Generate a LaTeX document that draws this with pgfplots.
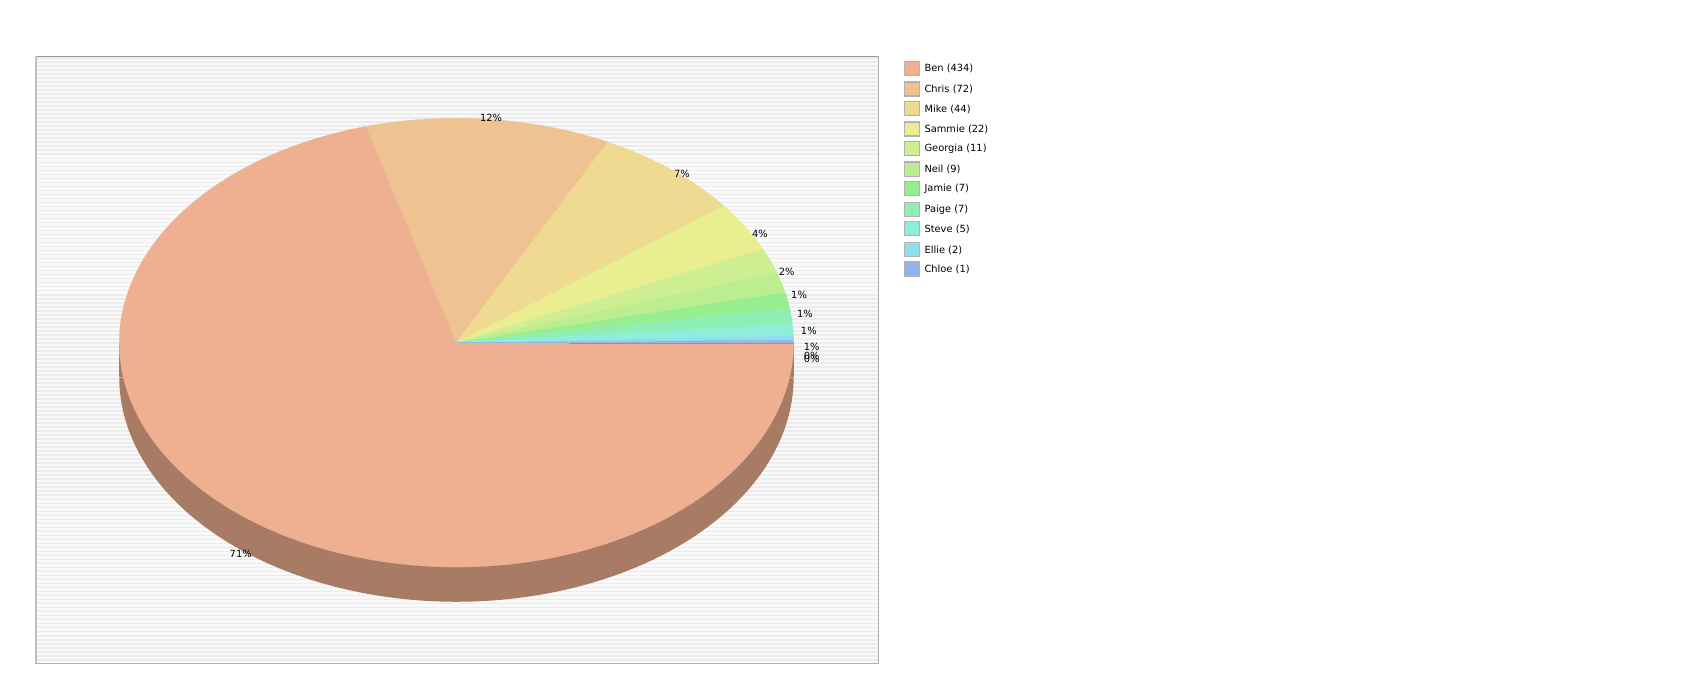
\documentclass[border=0pt]{standalone}
\usepackage{pgfplots}
\usepackage{pgfplotstable}
\pgfplotsset{compat=1.18}
\usepackage{fontspec}
\setmainfont{DejaVu Sans}

\definecolor{cBen}{HTML}{EEB091}
\definecolor{cChris}{HTML}{EEC291}
\definecolor{cMike}{HTML}{EEDA91}
\definecolor{cSammie}{HTML}{E9EE91}
\definecolor{cGeorgia}{HTML}{CDEE91}
\definecolor{cNeil}{HTML}{BCEE91}
\definecolor{cJamie}{HTML}{97EE8F}
\definecolor{cPaige}{HTML}{8FEEB5}
\definecolor{cSteve}{HTML}{8FEEDA}
\definecolor{cEllie}{HTML}{8FDFEE}
\definecolor{cChloe}{HTML}{8FB3EE}
\definecolor{cSide}{HTML}{A87C64}
\definecolor{stripe}{HTML}{ECECEC}
\definecolor{bgfill}{HTML}{FAFAFA}

% name value colour legend-y
\pgfplotstableread{
name value col ly
Ben 434 cBen 63
Chris 72 cChris 82
Mike 44 cMike 100
Sammie 22 cSammie 119
Georgia 11 cGeorgia 137
Neil 9 cNeil 156
Jamie 7 cJamie 174
Paige 7 cPaige 193
Steve 5 cSteve 211
Ellie 2 cEllie 230
Chloe 1 cChloe 248
}\piedata

% percentage labels (x, y, text)
\pgfplotstableread{
x y lab
222 511 71
453 109 12
629 160 7
701 216 4
725.6 250.5 2
737 272 1
742.5 289.5 1
746 305.5 1
748.6 320 1
748.6 328 0
748.6 331 0
}\labdata

\begin{document}
\begin{tikzpicture}
\pgfmathsetmacro\total{0}
\foreach \i in {0,...,10}{%
  \pgfplotstablegetelem{\i}{value}\of\piedata
  \pgfmathsetmacro\t{\total+\pgfplotsretval}%
  \xdef\total{\t}%
}
\begin{axis}[width=1275pt, height=525pt, scale only axis,
  at={(0,0)}, anchor=south west,
  xmin=0, xmax=1568, ymin=0, ymax=645.6, y dir=reverse,
  hide axis, clip=false]
% plot background
\addplot[fill=bgfill, draw=none] coordinates {(33,52) (810,52) (810,612) (33,612)} -- cycle;
\pgfplotsinvokeforeach{0,...,150}{
  \draw[stripe, line width=1.2pt] (axis cs:33,{53.5+3.7*#1}) -- (axis cs:810,{53.5+3.7*#1});
}
\draw[color=black!40, line width=0.8pt] (axis cs:33,52) -- (axis cs:810,52);
\draw[color=black!25, line width=1.6pt] (axis cs:33.5,52) -- (axis cs:33.5,612);
\draw[color=black!30, line width=0.6pt] (axis cs:810,52) -- (axis cs:810,612) -- (axis cs:33,612);
% 3D side (depth)
\addplot[fill=cSide, draw=none] coordinates {(110,316) (732,316) (732,348) (110,348)} -- cycle;
\addplot[fill=cSide, draw=none, domain=180:360, samples=181] ({421+311*cos(x)},{348-207*sin(x)}) -- cycle;
% top wedges, clockwise from 0 degrees
\gdef\cum{0}
\pgfplotsforeachungrouped \i in {0,...,10}{%
  \pgfplotstablegetelem{\i}{value}\of\piedata \let\v\pgfplotsretval
  \pgfplotstablegetelem{\i}{col}\of\piedata \let\c\pgfplotsretval
  \pgfmathsetmacro\a{\cum}%
  \pgfmathsetmacro\b{\cum-\v/\total*360}%
  \edef\cmd{\noexpand\addplot[fill=\c, draw=\c, line width=0.2pt, domain=\b:\a, samples=181] ({421+311*cos(x)},{316-207*sin(x)}) -- (axis cs:421,316) -- cycle;}%
  \cmd
  \xdef\cum{\b}%
}
% thin darker edge of the smallest slice
\addplot[draw=cChloe!70!black!80, line width=0.6pt] coordinates {(525,316.4) (732,316.4)};
% percentage labels
\addplot[only marks, mark=none, nodes near coords={\pgfplotspointmeta\%},
  point meta=explicit symbolic,
  nodes near coords style={anchor=center, font=\fontsize{7.4}{8}\selectfont, text=black}]
  table[x=x, y=y, meta=lab] {\labdata};
% legend
\pgfplotsforeachungrouped \i in {0,...,10}{%
  \pgfplotstablegetelem{\i}{name}\of\piedata \let\n\pgfplotsretval
  \pgfplotstablegetelem{\i}{value}\of\piedata \let\v\pgfplotsretval
  \pgfplotstablegetelem{\i}{col}\of\piedata \let\c\pgfplotsretval
  \pgfplotstablegetelem{\i}{ly}\of\piedata \let\y\pgfplotsretval
  \edef\cmd{\noexpand\draw[fill=\c, draw=black!30, line width=1pt] (axis cs:834.5,\y-6.5) rectangle (axis cs:848,\y+6.5);
  \noexpand\node[anchor=west, inner sep=0pt, font=\noexpand\fontsize{7.4}{8}\noexpand\selectfont] at (axis cs:852.5,\y+0.5) {\n\space(\v)};}%
  \cmd
}
\end{axis}
\pgfresetboundingbox
\path (0,0) rectangle (1275pt,525pt);
\end{tikzpicture}
\end{document}
